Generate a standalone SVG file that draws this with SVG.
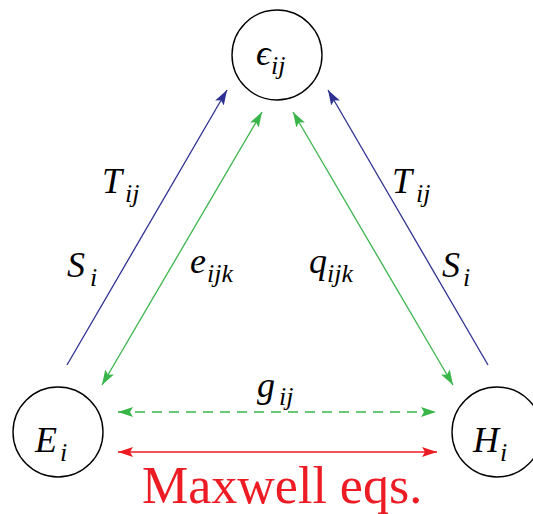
<svg xmlns="http://www.w3.org/2000/svg" width="533" height="514" viewBox="0 0 533 514">
<style>
.node{fill:#fff;stroke:#000;stroke-width:1.4}
.blue{stroke:#2E3192;stroke-width:1.3;fill:none}
.green{stroke:#39B54A;stroke-width:1.3;fill:none}
.red{stroke:#ED1C24;stroke-width:1.5;fill:none}
.m{font-family:'Liberation Serif',serif;font-size:36px;font-style:italic;fill:#000}
.s{font-family:'Liberation Serif',serif;font-size:26px;font-style:italic;fill:#000}
</style>
<defs>
<marker id="ab" markerUnits="userSpaceOnUse" markerWidth="16" markerHeight="12" refX="15" refY="5" orient="auto-start-reverse" viewBox="0 0 16 10"><path d="M0,0 L15,5 L0,10 L3,5 z" fill="#2E3192"/></marker>
<marker id="ag" markerUnits="userSpaceOnUse" markerWidth="16" markerHeight="12" refX="15" refY="5" orient="auto-start-reverse" viewBox="0 0 16 10"><path d="M0,0 L15,5 L0,10 L3,5 z" fill="#39B54A"/></marker>
<marker id="ar" markerUnits="userSpaceOnUse" markerWidth="16" markerHeight="12" refX="15" refY="5" orient="auto-start-reverse" viewBox="0 0 16 10"><path d="M0,0 L15,5 L0,10 L3,5 z" fill="#ED1C24"/></marker>
</defs>
<g id="connectors">
<line class="blue" x1="67" y1="365" x2="227" y2="90" marker-end="url(#ab)"/>
<line class="blue" x1="488" y1="365" x2="328" y2="90" marker-end="url(#ab)"/>
<line class="green" x1="102" y1="385" x2="262" y2="112" marker-start="url(#ag)" marker-end="url(#ag)"/>
<line class="green" x1="453" y1="385" x2="293" y2="112" marker-start="url(#ag)" marker-end="url(#ag)"/>
<line class="green" x1="118" y1="412" x2="436" y2="412" stroke-dasharray="10,7" marker-start="url(#ag)" marker-end="url(#ag)"/>
<line class="red" x1="118" y1="452" x2="437" y2="452" marker-start="url(#ar)" marker-end="url(#ar)"/>
</g>
<g id="labels">
<text class="m" x="102" y="193">T</text><text class="s" x="125" y="202">ij</text>
<text class="m" x="67" y="277">S</text><text class="s" x="90" y="286">i</text>
<text class="m" x="190" y="273">e</text><text class="s" x="207" y="282">ijk</text>
<text class="m" x="392" y="193">T</text><text class="s" x="416" y="202">ij</text>
<text class="m" x="442" y="277">S</text><text class="s" x="463" y="286">i</text>
<text class="m" x="309" y="273">q</text><text class="s" x="327" y="282">ijk</text>
<text class="m" x="257" y="397">g</text><text class="s" x="279" y="405">ij</text>
<text x="142" y="503" style="font-family:'Liberation Serif',serif;font-size:52px;fill:#ED1C24">Maxwell eqs.</text>
</g>
<g id="eps">
<circle class="node" cx="277" cy="55" r="45"/>
<text class="m" x="256" y="65">ϵ</text><text class="s" x="271" y="74">ij</text>
</g>
<g id="E">
<circle class="node" cx="58" cy="432" r="45"/>
<text class="m" x="35" y="452">E</text><text class="s" x="60" y="461">i</text>
</g>
<g id="H">
<circle class="node" cx="497" cy="432" r="45"/>
<text class="m" x="473" y="452">H</text><text class="s" x="500" y="461">i</text>
</g>
</svg>
